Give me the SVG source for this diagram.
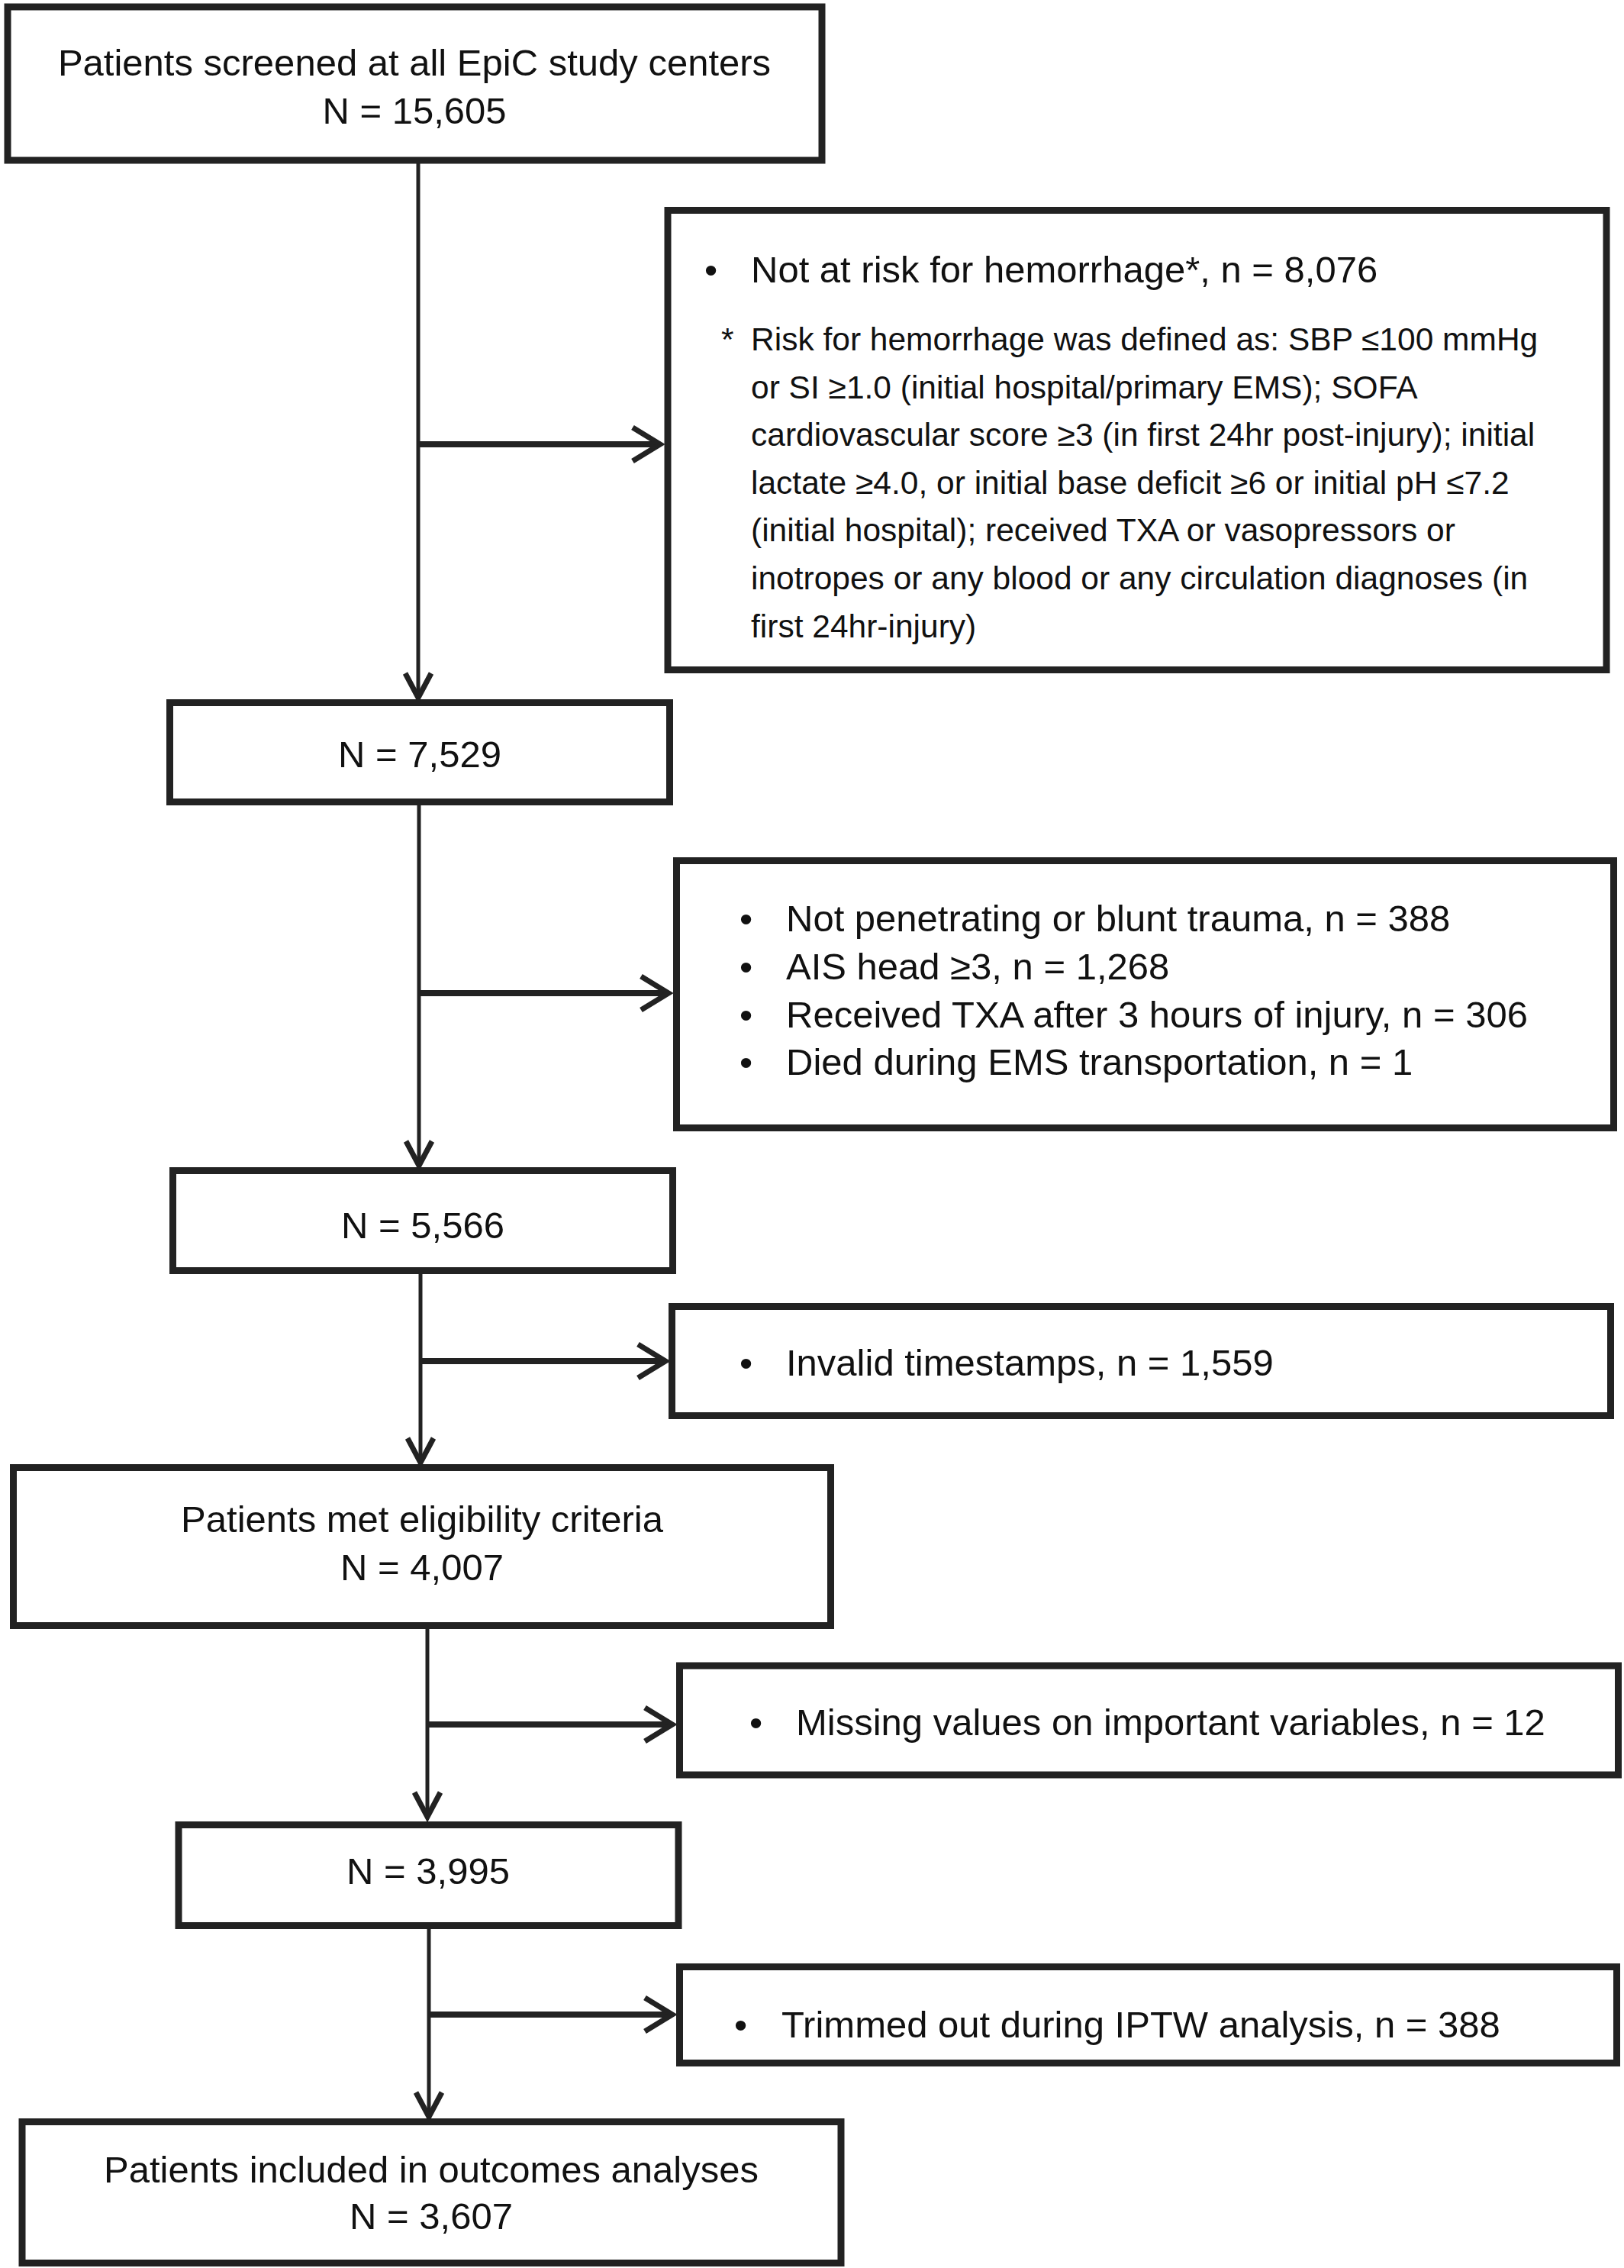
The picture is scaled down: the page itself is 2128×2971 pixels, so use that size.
<svg xmlns="http://www.w3.org/2000/svg" width="2128" height="2971" viewBox="0 0 2128 2971">
<style>
.box{fill:#fff;stroke:#222;stroke-width:9}
.t{font-family:"Liberation Sans",Arial,sans-serif;font-size:49px;fill:#111}
.c{text-anchor:middle}
.f{font-family:"Liberation Sans",Arial,sans-serif;font-size:42.5px;fill:#111}
.v{fill:none;stroke:#222;stroke-width:5}
.h{fill:none;stroke:#222;stroke-width:8}
.ah{fill:none;stroke:#222;stroke-width:7;stroke-linejoin:miter;stroke-linecap:butt}
</style>
<rect width="2128" height="2971" fill="#fff"/>
<g id="connectors">
<line class="v" x1="548" y1="214" x2="548" y2="914"/>
<polyline class="ah" points="531,882 548,914 565,882"/>
<line class="h" x1="548" y1="582" x2="865" y2="582"/>
<polyline class="ah" points="829,560 865,582 829,604"/>
<line class="v" x1="549" y1="1054" x2="549" y2="1527"/>
<polyline class="ah" points="532,1495 549,1527 566,1495"/>
<line class="h" x1="549" y1="1301" x2="876" y2="1301"/>
<polyline class="ah" points="840,1279 876,1301 840,1323"/>
<line class="v" x1="551" y1="1668" x2="551" y2="1916"/>
<polyline class="ah" points="534,1884 551,1916 568,1884"/>
<line class="h" x1="551" y1="1783" x2="872" y2="1783"/>
<polyline class="ah" points="836,1761 872,1783 836,1805"/>
<line class="v" x1="560" y1="2133" x2="560" y2="2380"/>
<polyline class="ah" points="543,2348 560,2380 577,2348"/>
<line class="h" x1="560" y1="2259" x2="881" y2="2259"/>
<polyline class="ah" points="845,2237 881,2259 845,2281"/>
<line class="v" x1="562" y1="2526" x2="562" y2="2773"/>
<polyline class="ah" points="545,2741 562,2773 579,2741"/>
<line class="h" x1="562" y1="2639" x2="881" y2="2639"/>
<polyline class="ah" points="845,2617 881,2639 845,2661"/>
</g>
<g id="n1">
<rect class="box" x="10" y="9" width="1067" height="201"/>
<text class="t c" x="543" y="99">Patients screened at all EpiC study centers</text>
<text class="t c" x="543" y="162">N = 15,605</text>
</g>
<g id="x1">
<rect class="box" x="875" y="275.5" width="1230" height="602"/>
<text class="t" x="923" y="370">•</text>
<text class="t" x="984" y="370">Not at risk for hemorrhage*, n = 8,076</text>
<text class="f" x="945" y="459">*</text>
<text class="f" x="984" y="459">Risk for hemorrhage was defined as: SBP ≤100 mmHg</text>
<text class="f" x="984" y="521.5">or SI ≥1.0 (initial hospital/primary EMS); SOFA</text>
<text class="f" x="984" y="584">cardiovascular score ≥3 (in first 24hr post-injury); initial</text>
<text class="f" x="984" y="647">lactate ≥4.0, or initial base deficit ≥6 or initial pH ≤7.2</text>
<text class="f" x="984" y="709">(initial hospital); received TXA or vasopressors or</text>
<text class="f" x="984" y="772">inotropes or any blood or any circulation diagnoses (in</text>
<text class="f" x="984" y="834.5">first 24hr-injury)</text>
</g>
<g id="n2">
<rect class="box" x="222.5" y="920.5" width="655" height="130"/>
<text class="t c" x="550" y="1005">N = 7,529</text>
</g>
<g id="x2">
<rect class="box" x="886.5" y="1127.5" width="1228" height="350"/>
<text class="t" x="969" y="1220">•</text>
<text class="t" x="1030" y="1220">Not penetrating or blunt trauma, n = 388</text>
<text class="t" x="969" y="1283">•</text>
<text class="t" x="1030" y="1283">AIS head ≥3, n = 1,268</text>
<text class="t" x="969" y="1345.5">•</text>
<text class="t" x="1030" y="1345.5">Received TXA after 3 hours of injury, n = 306</text>
<text class="t" x="969" y="1408">•</text>
<text class="t" x="1030" y="1408">Died during EMS transportation, n = 1</text>
</g>
<g id="n3">
<rect class="box" x="226.5" y="1533.5" width="655" height="131"/>
<text class="t c" x="554" y="1622">N = 5,566</text>
</g>
<g id="x3">
<rect class="box" x="880.5" y="1711.5" width="1230" height="143"/>
<text class="t" x="969" y="1802">•</text>
<text class="t" x="1030" y="1802">Invalid timestamps, n = 1,559</text>
</g>
<g id="n4">
<rect class="box" x="17.5" y="1922.5" width="1071" height="207"/>
<text class="t c" x="553" y="2007">Patients met eligibility criteria</text>
<text class="t c" x="553" y="2070">N = 4,007</text>
</g>
<g id="x4">
<rect class="box" x="890.5" y="2182" width="1230" height="143"/>
<text class="t" x="982" y="2273">•</text>
<text class="t" x="1043" y="2273">Missing values on important variables, n = 12</text>
</g>
<g id="n5">
<rect class="box" x="234" y="2390.5" width="655" height="132"/>
<text class="t c" x="561" y="2468">N = 3,995</text>
</g>
<g id="x5">
<rect class="box" x="890.5" y="2576.5" width="1228" height="126"/>
<text class="t" x="962" y="2669">•</text>
<text class="t" x="1024" y="2669">Trimmed out during IPTW analysis, n = 388</text>
</g>
<g id="n6">
<rect class="box" x="29" y="2779.5" width="1073" height="185"/>
<text class="t c" x="565" y="2859">Patients included in outcomes analyses</text>
<text class="t c" x="565" y="2920">N = 3,607</text>
</g>
</svg>
